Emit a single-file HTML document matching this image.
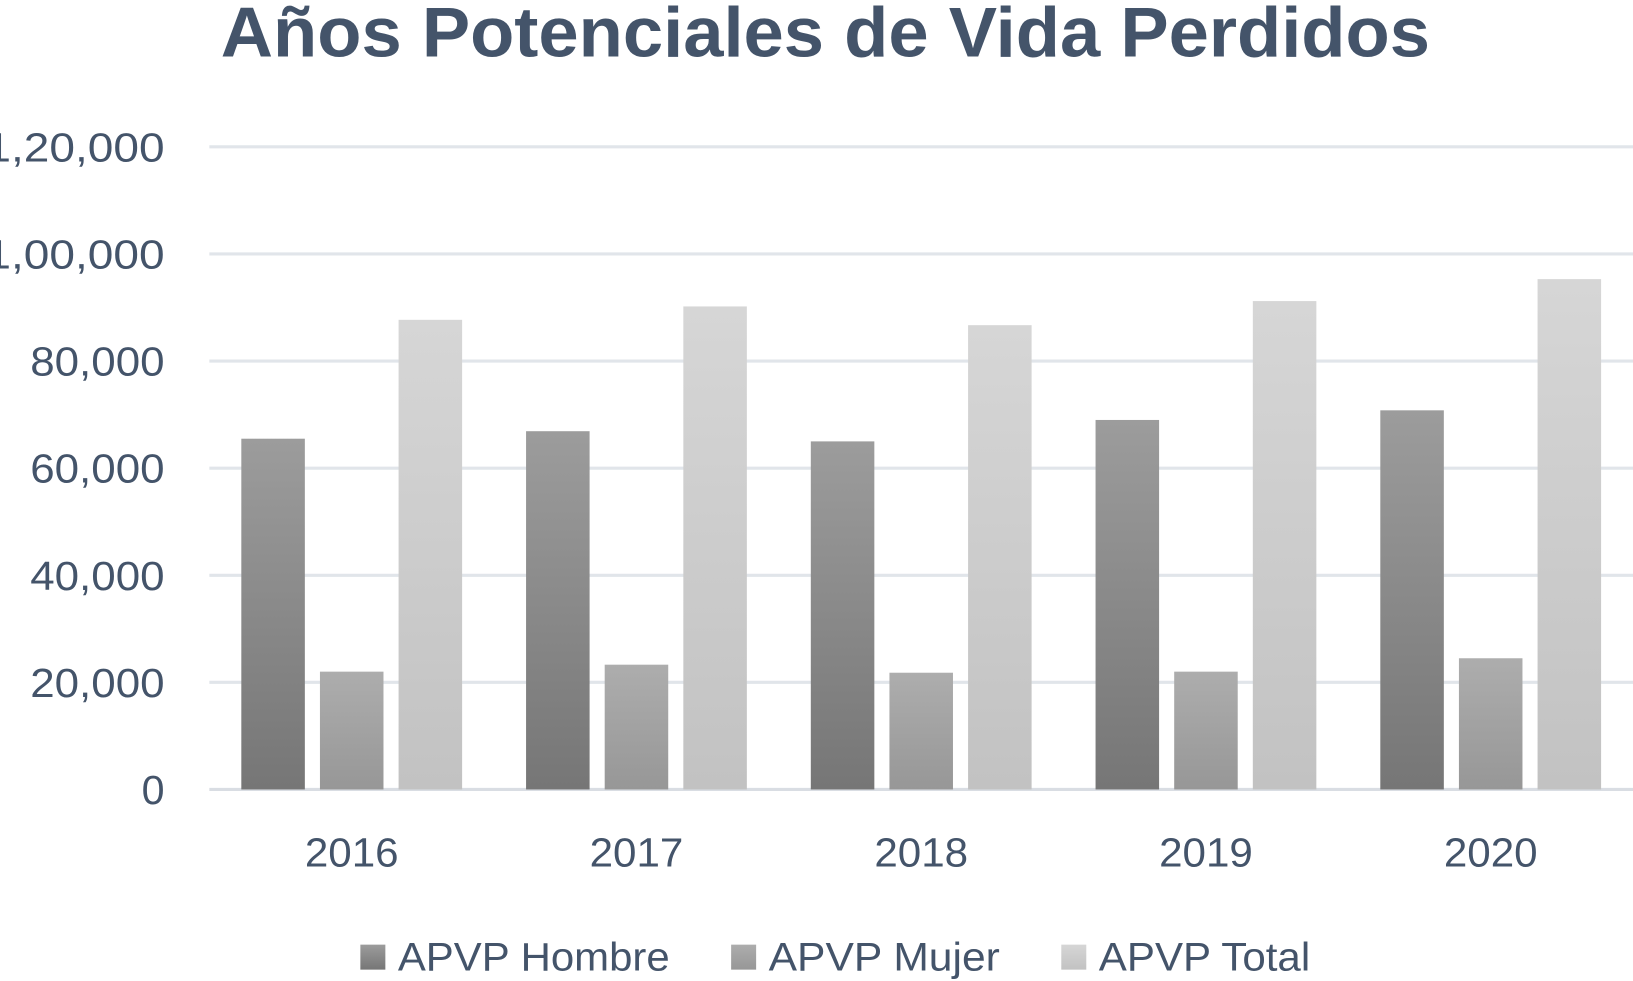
<!DOCTYPE html>
<html><head><meta charset="utf-8"><style>
html,body{margin:0;padding:0;background:#fff;}
svg{display:block;font-family:"Liberation Sans",sans-serif;}
</style></head><body>
<svg id="chart" width="1633" height="981" viewBox="0 0 1633 981" xmlns="http://www.w3.org/2000/svg">
<defs>
<linearGradient id="gH" x1="0" y1="0" x2="0" y2="1"><stop offset="0" stop-color="#9c9c9c"/><stop offset="1" stop-color="#767676"/></linearGradient>
<linearGradient id="gM" x1="0" y1="0" x2="0" y2="1"><stop offset="0" stop-color="#adadad"/><stop offset="1" stop-color="#979797"/></linearGradient>
<linearGradient id="gT" x1="0" y1="0" x2="0" y2="1"><stop offset="0" stop-color="#d6d6d6"/><stop offset="1" stop-color="#c2c2c2"/></linearGradient>
</defs>
<g transform="scale(1.0415)">
<text x="212" y="54" textLength="1161" lengthAdjust="spacingAndGlyphs" font-size="68" font-weight="bold" fill="#44546a">Años Potenciales de Vida Perdidos</text>
<g id="grid"></g><g id="bars"></g><g id="xlabels"></g>
<g>
<rect x="346" y="907" width="24" height="24" fill="url(#gH)"/>
<text x="382" y="932" textLength="261" lengthAdjust="spacingAndGlyphs" font-size="38" fill="#44546a">APVP Hombre</text>
<rect x="702" y="907" width="24" height="24" fill="url(#gM)"/>
<text x="738" y="932" textLength="222" lengthAdjust="spacingAndGlyphs" font-size="38" fill="#44546a">APVP Mujer</text>
<rect x="1019" y="907" width="24" height="24" fill="url(#gT)"/>
<text x="1055" y="932" textLength="203" lengthAdjust="spacingAndGlyphs" font-size="38" fill="#44546a">APVP Total</text>
</g>
</g>
</svg>
<script>
const categories = ["2016","2017","2018","2019","2020"];
const hombre = [65500, 66900, 65000, 69000, 70800];
const mujer = [22000, 23300, 21800, 22000, 24500];
const total = [87700, 90200, 86700, 91200, 95300];
const yTicks = [0,20000,40000,60000,80000,100000,120000];
const yTickLabels = ["0","20,000","40,000","60,000","80,000","1,00,000","1,20,000"];
const NS="http://www.w3.org/2000/svg";
const x0=201, x1=1568, yBase=758, yTop=141, yMax=120000;
const band=(x1-x0)/categories.length;
function y(v){return yBase-(v/yMax)*(yBase-yTop);}
function mk(t,a,p){const e=document.createElementNS(NS,t);for(const k in a)e.setAttribute(k,a[k]);p.appendChild(e);return e;}
const grid=document.getElementById('grid');
yTicks.forEach((t,i)=>{
 const l=mk('line',{x1:x0,x2:x1,y1:y(t),y2:y(t),stroke:i===0?'#d9dde3':'#e1e5ea','stroke-width':3},grid);
 
 
 const lbl=yTickLabels[i];
 const tx=mk('text',{x:158,y:y(t)+14,'text-anchor':'end','font-size':39,fill:'#44546a',textLength:Math.max(22,lbl.length*21.5),lengthAdjust:'spacingAndGlyphs'},grid);
 tx.textContent=lbl;
 
 
});
const bars=document.getElementById('bars'), xl=document.getElementById('xlabels');
const series=[[hombre,'url(#gH)','hombre'],[mujer,'url(#gM)','mujer'],[total,'url(#gT)','total']];
const bw=61, step=75.5;
categories.forEach((c,i)=>{
 const cx=x0+band*(i+0.5);
 series.forEach((s,j)=>{
  const bx=cx-bw/2+(j-1)*step, v=s[0][i];
  const r=mk('rect',{x:bx,y:y(v),width:bw,height:yBase-y(v),fill:s[1]},bars);
  
  
 });
 const t=mk('text',{x:cx,y:832,'text-anchor':'middle','font-size':39,fill:'#44546a',textLength:90,lengthAdjust:'spacingAndGlyphs'},xl);
 t.textContent=c;
 
 
});
</script>
</body></html>
